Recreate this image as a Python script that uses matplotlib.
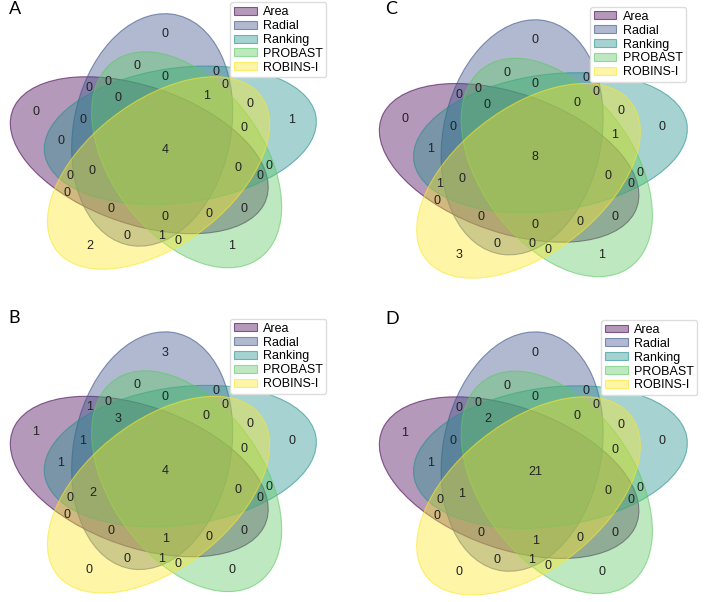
import matplotlib
matplotlib.use("Agg")
from matplotlib import pyplot as plt
from matplotlib import patches
import numpy as np

plt.rcParams['font.family'] = ['Liberation Sans', 'DejaVu Sans']

# set names (legend order)
names = ['Area', 'Radial', 'Ranking', 'PROBAST', 'ROBINS-I']
panel_letters = ['A', 'B', 'C', 'D']

# region keys: bit i set = inside set i (Area, Radial, Ranking, PROBAST, ROBINS-I)
keys = ['00001', '00010', '00011', '00100', '00101', '00110', '00111',
        '01000', '01001', '01010', '01011', '01100', '01101', '01110', '01111',
        '10000', '10001', '10010', '10011', '10100', '10101', '10110', '10111',
        '11000', '11001', '11010', '11011', '11100', '11101', '11110', '11111']

counts_A = [2, 1, 0, 1, 0, 0, 0,
            0, 0, 0, 1, 0, 0, 0, 1,
            0, 0, 0, 0, 0, 0, 0, 0,
            0, 0, 0, 0, 0, 0, 0, 4]
counts_B = [0, 0, 0, 0, 0, 0, 0,
            3, 0, 0, 1, 0, 0, 0, 0,
            1, 0, 0, 0, 1, 0, 0, 0,
            1, 0, 0, 1, 1, 2, 3, 4]
counts_C = [3, 1, 0, 0, 0, 0, 1,
            0, 0, 0, 0, 0, 0, 0, 0,
            0, 0, 0, 0, 1, 1, 0, 0,
            0, 0, 0, 0, 0, 0, 0, 8]
counts_D = [0, 0, 0, 0, 0, 0, 0,
            0, 0, 0, 1, 0, 0, 0, 0,
            1, 0, 0, 0, 1, 0, 0, 0,
            0, 0, 0, 1, 0, 1, 2, 21]

# ellipse geometry (pyvenn style 5-set layout)
ell_x = [0.428, 0.469, 0.558, 0.578, 0.489]
ell_y = [0.449, 0.543, 0.523, 0.432, 0.383]
ell_ang = [155.0, 82.0, 10.0, 118.0, 46.0]

txt_pos = {
    '00001': (0.27, 0.11), '00010': (0.72, 0.11), '00011': (0.55, 0.13),
    '00100': (0.91, 0.58), '00101': (0.78, 0.64), '00110': (0.84, 0.41),
    '00111': (0.76, 0.55), '01000': (0.51, 0.90), '01001': (0.39, 0.15),
    '01010': (0.42, 0.78), '01011': (0.50, 0.15), '01100': (0.67, 0.76),
    '01101': (0.70, 0.71), '01110': (0.51, 0.74), '01111': (0.64, 0.67),
    '10000': (0.10, 0.61), '10001': (0.20, 0.31), '10010': (0.76, 0.25),
    '10011': (0.65, 0.23), '10100': (0.18, 0.50), '10101': (0.21, 0.37),
    '10110': (0.81, 0.37), '10111': (0.74, 0.40), '11000': (0.27, 0.70),
    '11001': (0.34, 0.25), '11010': (0.33, 0.72), '11011': (0.51, 0.22),
    '11100': (0.25, 0.58), '11101': (0.28, 0.39), '11110': (0.36, 0.66),
    '11111': (0.51, 0.47),
}

colors = plt.cm.viridis(np.linspace(0, 1, 5))

W, H = 704, 602
fig = plt.figure(figsize=(W / 100, H / 100), dpi=100)

# axes boxes in pixels: left, top, right, bottom
boxes = [(4, 7, 320, 276), (4, 325, 320, 600), (373, 13, 691, 285), (373, 325, 691, 602)]
letter_px = [(9, 9), (8, 318), (385, 9), (385, 319)]
leg_anchor = [(1.04, 1.04), (1.04, 1.045), (1.005, 1.045), (1.04, 1.04)]
all_counts = [counts_A, counts_B, counts_C, counts_D]

for p in range(4):
    l, t, r, b = boxes[p]
    ax = fig.add_axes([l / W, 1 - b / H, (r - l) / W, (b - t) / H])
    ax.set_xlim(0, 1)
    ax.set_ylim(0, 1)
    ax.set_axis_off()
    handles = []
    for i in range(5):
        fc = list(colors[i][:3]) + [0.4]
        ec = list(colors[i][:3]) + [0.6]
        e = patches.Ellipse((ell_x[i], ell_y[i]), 0.87, 0.50, angle=ell_ang[i],
                            facecolor=fc, edgecolor=ec, linewidth=0.8)
        ax.add_patch(e)
        handles.append(patches.Patch(facecolor=fc, edgecolor=ec, linewidth=0.8))
    for k, v in zip(keys, all_counts[p]):
        x, y = txt_pos[k]
        ax.text(x, y, str(v), ha='center', va='center', fontsize=9, color='#222222')
    ax.legend(handles, names, loc='upper right', bbox_to_anchor=leg_anchor[p],
              fontsize=9, fancybox=True, framealpha=1, edgecolor='#dddddd',
              handlelength=1.8, handleheight=0.6, borderpad=0.3,
              labelspacing=0.15, handletextpad=0.5)
    fig.text(letter_px[p][0] / W, 1 - letter_px[p][1] / H, panel_letters[p],
             fontsize=13, ha='left', va='center', family=['Lato', 'DejaVu Sans'])

fig.savefig('out.png', dpi=100)
